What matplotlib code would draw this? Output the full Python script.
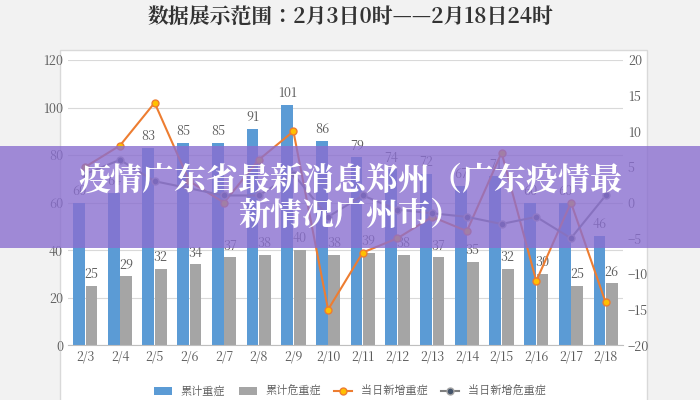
import numpy as np
import matplotlib.pyplot as plt
from matplotlib import font_manager
from matplotlib.patches import Rectangle

cjk = [f.name for f in font_manager.fontManager.ttflist if 'CJK' in f.name]
cjk_name = 'Noto Sans CJK SC' if 'Noto Sans CJK SC' in cjk else (cjk[0] if cjk else 'DejaVu Sans')
plt.rcParams['font.family'] = [cjk_name, 'DejaVu Sans']

# data
days = ['2/3', '2/4', '2/5', '2/6', '2/7', '2/8', '2/9', '2/10', '2/11', '2/12',
        '2/13', '2/14', '2/15', '2/16', '2/17', '2/18']
severe = [60, 64, 83, 85, 85, 91, 101, 86, 79, 74, 72, 67, 71, 60, 60, 46]
critical = [25, 29, 32, 34, 37, 38, 40, 38, 39, 38, 37, 35, 32, 30, 25, 26]
new_severe = [5, 8, 14, 3, 0, 6, 10, -15, -7, -5, -2, -4, 7, -11, 0, -14]
new_critical = [4, 6, 3, 2, 1, 1, 4, -2, 1, -1, -1.5, -2, -3, -2, -5, 1]

title = '数据展示范围：2月3日0时——2月18日24时'
banner = '疫情广东省最新消息郑州（广东疫情最\n新情况广州市）'

fig = plt.figure(figsize=(7, 4), dpi=100)
fig.patch.set_facecolor('#f2f2f2')
fig.add_artist(Rectangle((0.086, -0.01), 0.838, 0.885, transform=fig.transFigure,
                         facecolor='white', edgecolor='#d9d9d9', lw=1, zorder=-5))
fig.text(0.5, 0.955, title, ha='center', va='center', fontsize=15, fontweight='bold', color='#333333')

ax = fig.add_axes([0.097, 0.137, 0.793, 0.713])
ax.patch.set_alpha(0)
x = np.arange(len(days))
w = 0.34
b1 = ax.bar(x - w / 2 - 0.01, severe, w, color='#5b9bd5', label='累计重症')
b2 = ax.bar(x + w / 2 + 0.01, critical, w, color='#a5a5a5', label='累计危重症')
for xi, v in zip(x, severe):
    ax.text(xi - w / 2, v + 2, str(v), ha='center', va='bottom', fontsize=9, color='#595959')
for xi, v in zip(x, critical):
    ax.text(xi + w / 2, v + 2, str(v), ha='center', va='bottom', fontsize=9, color='#595959')
ax.set_ylim(0, 120)
ax.set_yticks(range(0, 121, 20))
ax.set_xlim(-0.5, len(days) - 0.5)
ax.set_xticks(x)
ax.set_xticklabels(days)
ax.grid(axis='y', color='#d9d9d9', lw=0.8)
ax.set_axisbelow(True)
for s in ['top', 'right', 'left']:
    ax.spines[s].set_visible(False)
ax.spines['bottom'].set_color('#bfbfbf')
ax.tick_params(colors='#595959', labelsize=9, length=0)

ax2 = ax.twinx()
ax2.plot(x, new_severe, color='#ed7d31', lw=1.5, marker='o', ms=5,
         markerfacecolor='#ffc000', markeredgecolor='#ed7d31', label='当日新增重症')
ax2.plot(x, new_critical, color='#7f7f7f', lw=1.5, marker='o', ms=5,
         markerfacecolor='#44546a', markeredgecolor='#a5a5a5', label='当日新增危重症')
ax2.set_ylim(-20, 20)
ax2.set_yticks(range(-20, 21, 5))
for s in ['top', 'right', 'left', 'bottom']:
    ax2.spines[s].set_visible(False)
ax2.tick_params(colors='#595959', labelsize=9, length=0)

h = [b1, b2] + ax2.get_lines()
fig.legend(h, [a.get_label() for a in h], loc='lower center', ncol=4, frameon=False,
           fontsize=8, bbox_to_anchor=(0.5, -0.02), labelcolor='#595959',
           handlelength=1.6, columnspacing=1.2)

fig.add_artist(Rectangle((0, 0.38), 1, 0.255, transform=fig.transFigure,
                         facecolor='#8a6fd0', alpha=0.8, edgecolor='none', zorder=10))
fig.text(0.5, 0.505, banner, ha='center', va='center', fontsize=23, fontweight='heavy',
         color='white', linespacing=1.05, zorder=11)

fig.savefig('out.png', dpi=100, facecolor=fig.get_facecolor())
